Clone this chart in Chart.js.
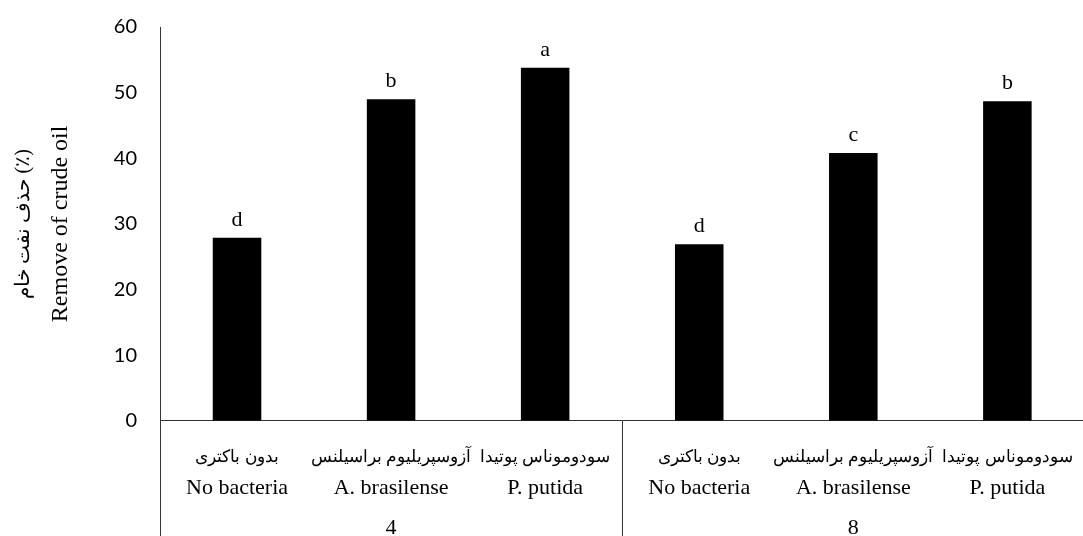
<!DOCTYPE html>
<html>
<head>
<meta charset="utf-8">
<script src="https://cdn.jsdelivr.net/npm/chart.js@4.4.1/dist/chart.umd.min.js"></script>
<style>
  html, body { margin: 0; padding: 0; background: #fff; overflow: hidden; }
  #wrap { width: 1100px; height: 536px; }
</style>
</head>
<body>
<div id="wrap"><canvas id="oilChart" width="1100" height="536"></canvas></div>
<script>
// values
const labelsFa = ['بدون باکتری', 'آزوسپریلیوم براسیلنس', 'سودوموناس پوتیدا',
                  'بدون باکتری', 'آزوسپریلیوم براسیلنس', 'سودوموناس پوتیدا'];
const labelsEn = ['No bacteria', 'A. brasilense', 'P. putida',
                  'No bacteria', 'A. brasilense', 'P. putida'];
const groups = ['4', '8'];
const removal = [27.9, 49.0, 53.8, 26.9, 40.8, 48.7];
const letters = ['d', 'b', 'a', 'd', 'c', 'b'];
const yTicks = [0, 10, 20, 30, 40, 50, 60];

const serif = "'Liberation Serif', 'Times New Roman', serif";

// letters above bars + group separators under the axis
const extras = {
  id: 'extras',
  afterDatasetsDraw(chart) {
    const ctx = chart.ctx;
    const meta = chart.getDatasetMeta(0);
    ctx.save();
    ctx.fillStyle = '#000';
    ctx.font = '22px ' + serif;
    ctx.textAlign = 'center';
    ctx.textBaseline = 'alphabetic';
    meta.data.forEach((bar, i) => {
      ctx.fillText(letters[i], bar.x, bar.y - 12);
    });
    ctx.restore();
  },
  afterDraw(chart) {
    const ctx = chart.ctx;
    const x = chart.scales.x;
    const step = (x.right - x.left) / labelsEn.length;
    const cuts = [x.left, x.left + step * 3, x.right];
    ctx.save();
    ctx.strokeStyle = '#333';
    ctx.lineWidth = 1;
    cuts.forEach(cx => {
      ctx.beginPath();
      ctx.moveTo(Math.round(cx) + 0.5, chart.chartArea.bottom);
      ctx.lineTo(Math.round(cx) + 0.5, chart.height);
      ctx.stroke();
    });
    ctx.restore();
  }
};

new Chart(document.getElementById('oilChart'), {
  type: 'bar',
  data: {
    labels: labelsFa,
    datasets: [{
      label: 'Remove of crude oil',
      data: removal,
      backgroundColor: '#000',
      borderWidth: 0,
      categoryPercentage: 1,
      barPercentage: 0.315
    }]
  },
  options: {
    responsive: false,
    animation: false,
    layout: { padding: { top: 27, right: 6, left: 0, bottom: 0 } },
    plugins: {
      legend: { display: false },
      tooltip: { enabled: false }
    },
    scales: {
      x: {
        weight: 0,
        offset: true,
        grid: { display: false, drawTicks: false },
        border: { display: true, color: '#333', width: 1 },
        ticks: { color: '#000', font: { family: serif, size: 17 }, padding: 27, maxRotation: 0, autoSkip: false },
        afterFit(s) { s.height = 46; }
      },
      xEn: {
        type: 'category',
        position: 'bottom',
        weight: 1,
        labels: labelsEn,
        offset: true,
        grid: { display: false, drawTicks: false },
        border: { display: false },
        ticks: { color: '#000', font: { family: serif, size: 22 }, padding: 8, maxRotation: 0, autoSkip: false },
        afterFit(s) { s.height = 34; }
      },
      xGroup: {
        type: 'category',
        position: 'bottom',
        weight: 2,
        labels: groups,
        offset: true,
        grid: { display: false, drawTicks: false },
        border: { display: false },
        ticks: { color: '#000', font: { family: serif, size: 22 }, padding: 14, maxRotation: 0, autoSkip: false },
        afterFit(s) { s.height = 35.3; }
      },
      y: {
        weight: 0,
        min: 0,
        max: 60,
        afterBuildTicks(s) { s.ticks = yTicks.map(v => ({ value: v })); },
        grid: { display: false, drawTicks: false },
        border: { display: true, color: '#333', width: 1 },
        ticks: { color: '#000', font: { family: 'Lato', size: 20 }, padding: 23 },
        title: {
          display: true,
          text: 'Remove of crude oil',
          color: '#000',
          font: { family: serif, size: 24 },
          padding: { top: 6, bottom: 0 }
        },
        afterFit(s) {
          s.width = 120;
          // keep the big tick padding from pushing the plot top down
          s.paddingTop = 0;
          s.paddingBottom = 0;
        }
      },
      yFa: {
        type: 'linear',
        position: 'left',
        weight: 1,
        grid: { display: false, drawTicks: false },
        border: { display: false },
        ticks: { display: false },
        title: {
          display: true,
          text: 'حذف نفت خام (٪)',
          color: '#000',
          font: { family: serif, size: 20 },
          padding: { top: 12, bottom: 0 }
        },
        afterFit(s) { s.width = 40; }
      }
    }
  },
  plugins: [extras]
});
</script>
</body>
</html>
